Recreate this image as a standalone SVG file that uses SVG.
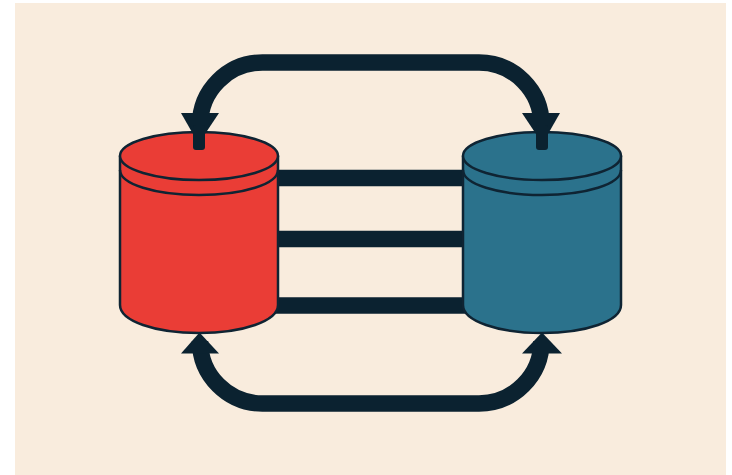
<svg xmlns="http://www.w3.org/2000/svg" width="732" height="475" viewBox="0 0 732 475">
<style>
.ln{fill:none;stroke:#0b2230;stroke-width:16.5}
.head{fill:#0b2230}
.body{stroke:#0f2433;stroke-width:2.5;stroke-linejoin:round}
.rim{fill:none;stroke:#0f2433;stroke-width:2.5}
</style>
<rect width="732" height="475" fill="#ffffff"/>
<rect x="15" y="3" width="711" height="472" fill="#f9ecdd"/>
<g id="connectors">
<path class="ln" d="M270 178H470"/>
<path class="ln" d="M270 239H470"/>
<path class="ln" d="M270 305.500H470"/>
<path class="ln" d="M200 125A62.500 62.500 0 0 1 262.500 62.500H479A62.500 62.500 0 0 1 541.500 125"/>
<path class="ln" d="M200 341A62.500 62.500 0 0 0 262.500 403.500H479A62.500 62.500 0 0 0 541.500 341"/>
</g>
<g id="node-left">
<path class="body" fill="#ea3d36" d="M120 156V305C120 321 155 333 199 333C243 333 278 321 278 305V156Z"/>
<ellipse class="body" fill="#ea3d36" cx="199" cy="156" rx="79" ry="24"/>
<path class="rim" d="M120 170C120 184 155 195 199 195C243 195 278 184 278 170"/>
</g>
<g id="node-right">
<path class="body" fill="#2b728c" d="M463 156V305C463 321 498 333 542 333C586 333 621 321 621 305V156Z"/>
<ellipse class="body" fill="#2b728c" cx="542" cy="156" rx="79" ry="24"/>
<path class="rim" d="M463 170C463 184 498 195 542 195C586 195 621 184 621 170"/>
</g>
<g id="arrowheads">
<path class="head" d="M181 113H219L205 134H193Z"/>
<rect class="head" x="193" y="125" width="12" height="25" rx="3"/>
<path class="head" d="M522 113H560L548 134H536Z"/>
<rect class="head" x="536" y="125" width="12" height="25" rx="3"/>
<path class="head" d="M181 353.500H219L199.500 332.500Z"/>
<path class="head" d="M522 353.500H562L542 332.500Z"/>
</g>
</svg>
